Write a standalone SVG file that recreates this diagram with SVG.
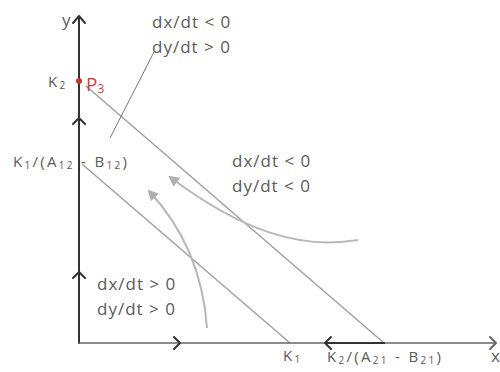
<svg xmlns="http://www.w3.org/2000/svg" width="500" height="372" viewBox="0 0 500 372">
<style>
.ax{stroke:#333;stroke-width:2;fill:none}
.chev{stroke:#333;stroke-width:2;fill:none;stroke-linecap:round;stroke-linejoin:round}
.nl{stroke:#a0a0a0;stroke-width:1.5;fill:none}
.tr{stroke:#b8b8b8;stroke-width:2;fill:none}
.t{font-family:"Open Sans","DejaVu Sans",sans-serif;font-size:17px;letter-spacing:1px;fill:#5a5a5a}
.s{font-family:"Open Sans","DejaVu Sans",sans-serif;font-size:15px;letter-spacing:2.3px;fill:#5a5a5a}
.sub{font-size:10px}
</style>
<defs>
<marker id="ah" viewBox="0 0 10 10" refX="8" refY="5" markerWidth="5.5" markerHeight="5.5" orient="auto">
<path d="M0,0 L10,5 L0,10 z" fill="#b0b0b0"/>
</marker>
</defs>
<rect width="500" height="372" fill="#fff"/>
<g id="connectors">
<line class="nl" x1="86" y1="86" x2="384" y2="343"/>
<line class="nl" x1="82" y1="164" x2="290" y2="343"/>
<line x1="154" y1="52" x2="110" y2="138" stroke="#777" stroke-width="1"/>
<path class="tr" d="M207,328 C204,285 190,235 149,191" marker-end="url(#ah)"/>
<path class="tr" d="M358,240 C300,250 240,230 170,177" marker-end="url(#ah)"/>
</g>
<g id="axes">
<line class="ax" x1="79" y1="16" x2="79" y2="344"/>
<line x1="78" y1="343" x2="496" y2="343" stroke="#666" stroke-width="1.6"/>
<line x1="325" y1="343" x2="385" y2="343" stroke="#333" stroke-width="2"/>
<polyline class="chev" points="73,23 79,16 85,23"/>
<polyline class="chev" points="73,124 79,118 85,124"/>
<polyline class="chev" points="73,278 79,272 85,278"/>
<polyline class="chev" points="174,337 180,343 174,349"/>
<polyline class="chev" points="331,337 325,343 331,349"/>
<polyline class="chev" points="490,337 496,343 490,349" style="stroke:#666"/>
</g>
<g id="labels">
<text class="t" x="62" y="26">y</text>
<text class="t" x="491" y="362">x</text>
<text class="s" x="48" y="87">K<tspan class="sub" dy="2">2</tspan></text>
<circle cx="79" cy="81" r="3" fill="#c0392b"/>
<text x="86" y="91" font-family="Open Sans, DejaVu Sans, sans-serif" font-size="19" fill="#d04040">P<tspan font-size="12" dy="2">3</tspan></text>
<text class="s" x="13" y="167">K<tspan class="sub" dy="2">1</tspan><tspan dy="-2">/(A</tspan><tspan class="sub" dy="2">12</tspan><tspan dy="-2"> - B</tspan><tspan class="sub" dy="2">12</tspan><tspan dy="-2">)</tspan></text>
<text class="s" x="283" y="361">K<tspan class="sub" dy="2">1</tspan></text>
<text class="s" x="327" y="362">K<tspan class="sub" dy="2">2</tspan><tspan dy="-2">/(A</tspan><tspan class="sub" dy="2">21</tspan><tspan dy="-2"> - B</tspan><tspan class="sub" dy="2">21</tspan><tspan dy="-2">)</tspan></text>
</g>
<g id="region-top">
<text class="t" x="152" y="28">dx/dt &lt; 0</text>
<text class="t" x="152" y="53">dy/dt &gt; 0</text>
</g>
<g id="region-mid">
<text class="t" x="232" y="167">dx/dt &lt; 0</text>
<text class="t" x="232" y="192">dy/dt &lt; 0</text>
</g>
<g id="region-bottom">
<text class="t" x="97" y="290">dx/dt &gt; 0</text>
<text class="t" x="97" y="315">dy/dt &gt; 0</text>
</g>
</svg>
